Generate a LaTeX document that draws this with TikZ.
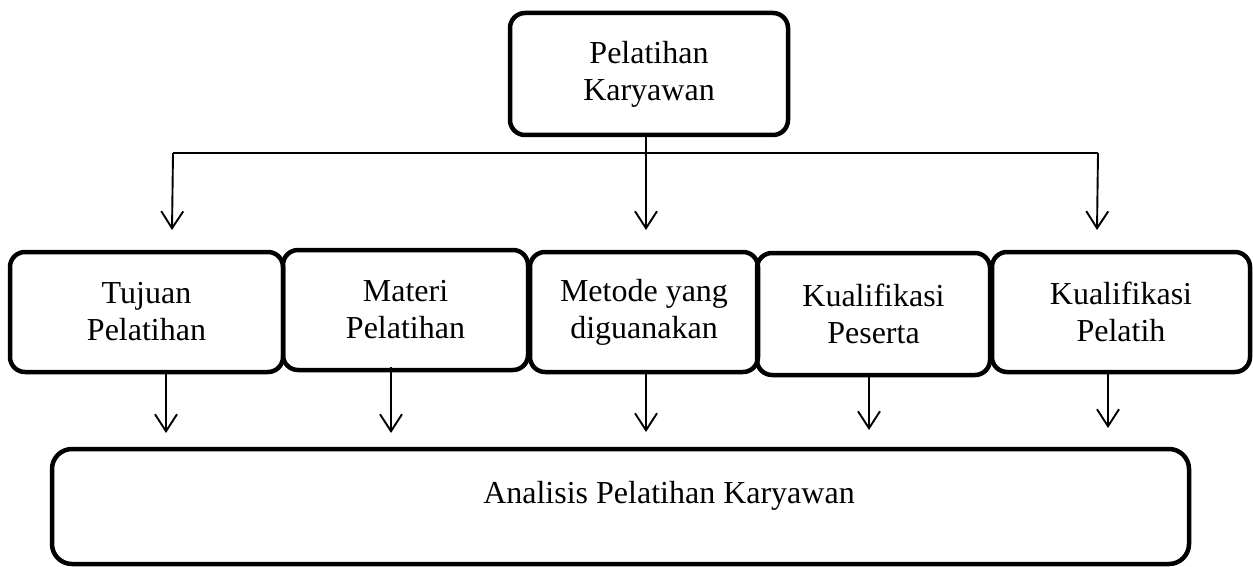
\documentclass[tikz,border=0pt]{standalone}
\usepackage{fontspec}
\setmainfont{Liberation Serif}
\usetikzlibrary{arrows.meta}
\begin{document}
\begin{tikzpicture}[x=1pt,y=-1pt,
  box/.style={draw, line width=4.5pt, rounded corners=15pt, align=center,
    font=\fontsize{32}{37}\selectfont, inner sep=0pt},
  lbl/.style={font=\fontsize{32}{37}\selectfont, inner sep=0pt},
  arr/.style={line width=1.9pt, -{Straight Barb[length=17pt,width=22pt]}},
  bar/.style={line width=1.6pt}
]
\useasboundingbox (0,0) rectangle (1253,567);
% top box
\node[box, minimum width=278pt, minimum height=122pt] (top) at (649,74) {Pelatihan\\Karyawan};
% row of boxes
\node[box, minimum width=273pt, minimum height=120pt] (b1) at (146.5,312) {Tujuan\\Pelatihan};
\node[box, minimum width=245pt, minimum height=120pt] (b2) at (405.5,310) {Materi\\Pelatihan};
\node[box, minimum width=228pt, minimum height=120pt] (b3) at (644,312) {Metode yang\\diguanakan};
\node[box, minimum width=233pt, minimum height=122pt] (b4) at (873.5,314) {Kualifikasi\\Peserta};
\node[box, minimum width=258pt, minimum height=120pt] (b5) at (1121,312) {Kualifikasi\\Pelatih};
% bottom box
\node[box, rounded corners=20pt, minimum width=1137pt, minimum height=115pt] (ana) at (620.5,506.5) {};
\node[lbl, anchor=base] (analbl) at (669,503) {Analisis Pelatihan Karyawan};
% distribution line
\coordinate (hl) at (173,153);
\coordinate (hr) at (1098,153);
\coordinate (tl) at (172,230);
\coordinate (tr) at (1097,230);
\coordinate (tm) at (646,230);
\draw[bar] (hl) -- (hr);
\draw[arr] (top.south -| tm) -- (tm);
\draw[arr] (hl) -- (tl);
\draw[arr] (hr) -- (tr);
% arrows to bottom box
\coordinate (e1) at (166,433);
\coordinate (e2) at (391,433);
\coordinate (e3) at (646,432);
\coordinate (e4) at (869,430);
\coordinate (e5) at (1108,428);
\draw[arr] (b1.south -| e1) -- (e1);
\draw[arr] ([yshift=5pt]b2.south -| e2) -- (e2);
\draw[arr] ([yshift=3pt]b3.south -| e3) -- (e3);
\draw[arr] (b4.south -| e4) -- (e4);
\draw[arr] ([yshift=3pt]b5.south -| e5) -- (e5);
\end{tikzpicture}
\end{document}
